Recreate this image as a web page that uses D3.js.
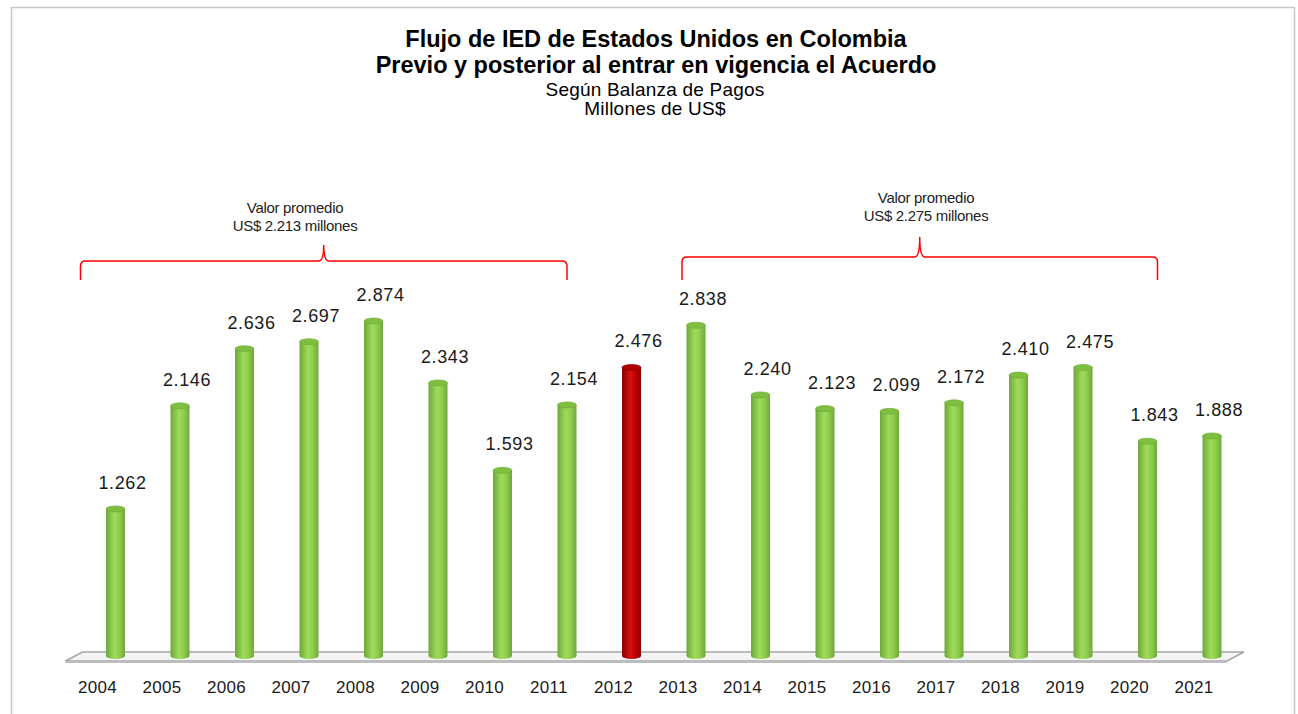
<!DOCTYPE html>
<html>
<head>
<meta charset="utf-8">
<script src="https://cdn.jsdelivr.net/npm/d3@7"></script>
<style>
  body { margin: 0; background: #fff; }
  svg { display: block; }
</style>
</head>
<body>
<svg id="chart" width="1298" height="714"></svg>
<script>
var years = ["2004","2005","2006","2007","2008","2009","2010","2011","2012","2013","2014","2015","2016","2017","2018","2019","2020","2021"];
var values = [1262, 2146, 2636, 2697, 2874, 2343, 1593, 2154, 2476, 2838, 2240, 2123, 2099, 2172, 2410, 2475, 1843, 1888];
var highlightYear = "2012";
var titleLines = ["Flujo de IED de Estados Unidos en Colombia", "Previo y posterior al entrar en vigencia el Acuerdo"];
var subtitleLines = ["Según Balanza de Pagos", "Millones de US$"];
var periods = [
  { from: "2004", to: "2011", text: ["Valor promedio", "US$ 2.213 millones"] },
  { from: "2013", to: "2020", text: ["Valor promedio", "US$ 2.275 millones"] }
];

var svg = d3.select("#chart");
var fmt = d3.formatLocale({ decimal: ",", thousands: ".", grouping: [3] }).format(",.0f");

// chart frame
svg.append("rect")
  .attr("x", 11.5).attr("y", 7.5)
  .attr("width", 1283).attr("height", 720)
  .style("fill", "white").style("stroke", "#c8c8c8").style("stroke-width", 1.5);

var x = d3.scalePoint().domain(years).range([115.5, 1212]);
var y = d3.scaleLinear().domain([0, 2874]).range([656, 321]);

var defs = svg.append("defs");
function cylGrad(id, dark, mid, light) {
  var g = defs.append("linearGradient").attr("id", id).attr("x1", "0%").attr("x2", "100%");
  g.append("stop").attr("offset", "0%").attr("stop-color", dark);
  g.append("stop").attr("offset", "45%").attr("stop-color", light);
  g.append("stop").attr("offset", "70%").attr("stop-color", mid);
  g.append("stop").attr("offset", "100%").attr("stop-color", dark);
}
cylGrad("gGreen", "#6ea83a", "#8fcd4c", "#9fdc5a");
cylGrad("gRed", "#8a0000", "#c00000", "#d41212");

// floor
var floorTop = 652, floorBot = 661;
var fl = d3.min(x.range()) - 33, fr = d3.max(x.range()) + 32;
svg.append("path")
  .attr("d", d3.line()([[fl - 17, floorBot], [fl, floorTop], [fr, floorTop], [fr - 17, floorBot], [fl - 17, floorBot]]))
  .style("fill", "#f4f4f4").style("stroke", "#a6a6a6").style("stroke-width", 1.5);
svg.append("line")
  .attr("x1", fl - 17).attr("x2", fr - 17).attr("y1", floorBot + 1).attr("y2", floorBot + 1)
  .style("stroke", "#bdbdbd").style("stroke-width", 2);

// bars
var bw = 19;
var bars = svg.append("g").selectAll("g").data(years).join("g");
bars.append("rect")
  .attr("x", function (d) { return x(d) - bw / 2; })
  .attr("y", function (d, i) { return y(values[i]); })
  .attr("width", bw)
  .attr("height", function (d, i) { return y(0) - y(values[i]); })
  .style("fill", function (d) { return d === highlightYear ? "url(#gRed)" : "url(#gGreen)"; });
bars.append("ellipse")
  .attr("cx", function (d) { return x(d); })
  .attr("cy", y(0))
  .attr("rx", bw / 2).attr("ry", 3)
  .style("fill", function (d) { return d === highlightYear ? "url(#gRed)" : "url(#gGreen)"; });
bars.append("ellipse")
  .attr("cx", function (d) { return x(d); })
  .attr("cy", function (d, i) { return y(values[i]); })
  .attr("rx", bw / 2).attr("ry", 3)
  .style("fill", function (d) { return d === highlightYear ? "#b00000" : "#7fbf3f"; })
  .style("stroke", function (d) { return d === highlightYear ? "#8a0000" : "#6ea83a"; })
  .style("stroke-width", 0.6);

// value labels
svg.append("g").selectAll("text").data(years).join("text")
  .attr("x", function (d) { return x(d) + 7; })
  .attr("y", function (d, i) { return y(values[i]) - 20; })
  .style("text-anchor", "middle")
  .style("font-family", "Arial, 'Liberation Sans', sans-serif")
  .style("font-size", "18px")
  .style("letter-spacing", "0.6px")
  .style("fill", "#1a1a1a")
  .text(function (d, i) { return fmt(values[i]); });

// year labels
svg.append("g").selectAll("text").data(years).join("text")
  .attr("x", function (d) { return x(d) - 18; })
  .attr("y", 693)
  .style("text-anchor", "middle")
  .style("font-family", "Arial, 'Liberation Sans', sans-serif")
  .style("font-size", "17px")
  .style("letter-spacing", "0.3px")
  .style("fill", "#1a1a1a")
  .text(function (d) { return d; });

// titles
svg.append("g").selectAll("text").data(titleLines).join("text")
  .attr("x", 656).attr("y", function (d, i) { return 47 + i * 26; })
  .style("text-anchor", "middle")
  .style("font-family", "Arial, 'Liberation Sans', sans-serif")
  .style("font-weight", "bold")
  .style("font-size", "23.5px")
  .style("fill", "#000")
  .text(function (d) { return d; });
svg.append("g").selectAll("text").data(subtitleLines).join("text")
  .attr("x", 655).attr("y", function (d, i) { return 96 + i * 19; })
  .style("text-anchor", "middle")
  .style("font-family", "Arial, 'Liberation Sans', sans-serif")
  .style("font-size", "19px")
  .style("letter-spacing", "0.2px")
  .style("fill", "#000")
  .text(function (d) { return d; });

// period brackets
var brSpec = [
  { left: 35, right: 0, top: 261, tip: 245, textX: 295, textY: 213 },
  { left: 14, right: 10, top: 257, tip: 237, textX: 926, textY: 203 }
];
var brBot = 280;
periods.forEach(function (p, k) {
  var s = brSpec[k];
  var x0 = x(p.from) - s.left;
  var x1 = x(p.to) + s.right;
  var xm = (x0 + x1) / 2;
  var path = d3.path();
  path.moveTo(x0, brBot);
  path.lineTo(x0, s.top + 5);
  path.quadraticCurveTo(x0, s.top, x0 + 5, s.top);
  path.lineTo(xm - 5, s.top);
  path.quadraticCurveTo(xm, s.top, xm, s.tip);
  path.quadraticCurveTo(xm, s.top, xm + 5, s.top);
  path.lineTo(x1 - 5, s.top);
  path.quadraticCurveTo(x1, s.top, x1, s.top + 5);
  path.lineTo(x1, brBot);
  svg.append("path").attr("d", path.toString())
    .style("fill", "none").style("stroke", "#ff0000").style("stroke-width", 1.5);
  svg.append("g").selectAll("text").data(p.text).join("text")
    .attr("x", s.textX).attr("y", function (d, i) { return s.textY + i * 18; })
    .style("text-anchor", "middle")
    .style("font-family", "Arial, 'Liberation Sans', sans-serif")
    .style("font-size", "15px")
    .style("letter-spacing", "-0.3px")
    .style("fill", "#222")
    .text(function (d) { return d; });
});
</script>
</body>
</html>
